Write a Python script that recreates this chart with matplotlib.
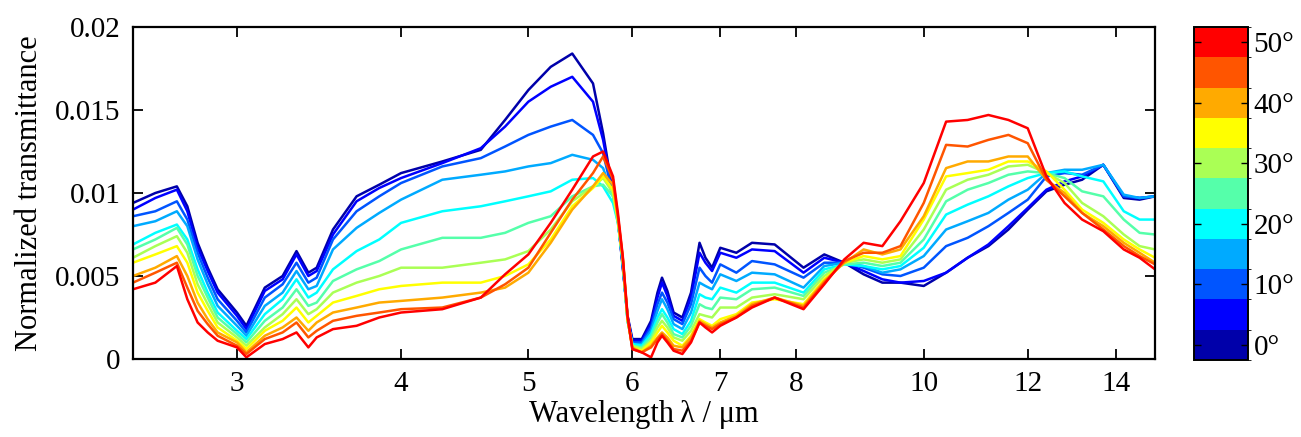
import matplotlib
matplotlib.use("Agg")
import matplotlib.pyplot as plt
import numpy as np
from matplotlib.colors import ListedColormap, BoundaryNorm
from matplotlib.ticker import FixedLocator, NullLocator, FixedFormatter

# wavelength grid in micrometres
wl = [2.50, 2.60, 2.70, 2.75, 2.80, 2.85, 2.90,
      3.00, 3.05, 3.15, 3.25, 3.33, 3.40, 3.45, 3.55, 3.70, 3.85,
      4.00, 4.30, 4.60, 4.80,
      5.00, 5.20, 5.40, 5.60, 5.70, 5.80, 5.85, 5.90, 5.95,
      6.00, 6.10, 6.20, 6.27, 6.32, 6.38, 6.45, 6.55, 6.65, 6.75, 6.82, 6.90,
      7.00, 7.20, 7.40, 7.70, 8.10, 8.40, 8.70,
      9.00, 9.30, 9.60, 10.0, 10.4, 10.8, 11.2, 11.6,
      12.0, 12.4, 12.8, 13.2, 13.7, 14.2, 14.6, 15.0]

# normalized transmittance, in units of 1e-3, one list per incidence angle
t00 = [9.4, 10.0, 10.4, 9.2, 7.0, 5.5, 4.2,
       2.8, 2.0, 4.3, 5.0, 6.5, 5.2, 5.5, 7.8, 9.8, 10.5,
       11.2, 11.9, 12.6, 14.4,
       16.2, 17.6, 18.4, 16.6, 13.6, 10.0, 8.4, 5.5, 2.6,
       1.2, 1.2, 2.3, 4.0, 4.9, 4.1, 2.8, 2.5, 4.0, 7.0, 6.1, 5.5,
       6.7, 6.4, 7.0, 6.9, 5.5, 6.3, 5.8,
       5.1, 4.6, 4.6, 4.4, 5.2, 6.1, 6.8, 7.8,
       9.0, 10.1, 10.5, 10.8, 11.7, 9.7, 9.6, 9.8]
t05 = [9.0, 9.7, 10.2, 8.9, 6.7, 5.3, 4.0,
       2.6, 1.8, 4.1, 4.8, 6.3, 5.0, 5.3, 7.5, 9.5, 10.3,
       10.9, 11.8, 12.7, 14.0,
       15.5, 16.4, 17.0, 15.5, 13.2, 10.0, 8.4, 5.6, 2.5,
       1.1, 1.1, 2.1, 3.7, 4.6, 3.8, 2.6, 2.3, 3.7, 6.4, 5.8, 5.3,
       6.4, 6.1, 6.6, 6.5, 5.2, 6.1, 5.8,
       5.3, 4.8, 4.6, 4.7, 5.2, 6.1, 6.9, 8.0,
       9.1, 10.2, 10.7, 11.0, 11.7, 9.8, 9.7, 9.8]
t10 = [8.6, 8.9, 9.5, 8.4, 6.4, 4.9, 3.6,
       2.3, 1.6, 3.7, 4.5, 5.8, 4.6, 4.9, 7.2, 8.9, 9.8,
       10.6, 11.6, 12.1, 12.8,
       13.5, 14.0, 14.4, 13.5, 12.4, 9.9, 8.4, 5.7, 2.4,
       1.0, 1.0, 1.9, 3.3, 4.0, 3.4, 2.4, 2.1, 3.3, 5.5, 5.0, 4.6,
       5.7, 5.2, 5.9, 5.7, 4.9, 5.8, 5.8,
       5.5, 5.1, 5.0, 5.5, 6.8, 7.3, 8.0, 8.8,
       9.6, 11.0, 11.2, 11.1, 11.7, 9.8, 9.7, 9.8]
t15 = [8.0, 8.3, 8.9, 8.0, 6.0, 4.5, 3.2,
       2.0, 1.4, 3.2, 4.0, 5.3, 4.2, 4.4, 6.6, 7.9, 8.8,
       9.6, 10.8, 11.1, 11.3,
       11.6, 11.8, 12.3, 12.0, 11.5, 9.8, 8.3, 5.8, 2.3,
       0.9, 0.9, 1.7, 2.9, 3.6, 3.0, 2.1, 1.8, 2.8, 4.6, 4.4, 4.2,
       5.1, 4.7, 5.2, 5.1, 4.3, 5.6, 5.8,
       5.6, 5.2, 5.4, 6.2, 7.8, 8.3, 8.8, 9.6,
       10.2, 11.2, 11.4, 11.4, 11.7, 9.9, 9.7, 9.8]
t20 = [6.9, 7.6, 8.1, 7.2, 5.4, 4.0, 2.8,
       1.7, 1.2, 2.7, 3.6, 4.8, 3.7, 4.0, 5.4, 6.5, 7.2,
       8.2, 8.9, 9.2, 9.5,
       9.8, 10.1, 10.8, 10.9, 10.4, 9.4, 8.2, 5.8, 2.3,
       0.9, 0.8, 1.5, 2.5, 3.0, 2.5, 1.8, 1.5, 2.3, 3.9, 3.7, 3.6,
       4.3, 4.0, 4.6, 4.6, 4.0, 5.4, 5.7,
       5.6, 5.4, 5.6, 6.7, 8.7, 9.3, 9.8, 10.4,
       10.9, 11.2, 11.3, 11.0, 10.7, 8.9, 8.4, 8.4]
t25 = [6.6, 7.2, 7.9, 6.9, 5.0, 3.7, 2.5,
       1.5, 1.0, 2.3, 3.1, 4.2, 3.2, 3.4, 4.7, 5.4, 5.9,
       6.6, 7.3, 7.3, 7.6,
       8.2, 8.6, 9.8, 10.4, 10.5, 9.8, 8.2, 5.9, 2.3,
       0.8, 0.7, 1.3, 2.2, 2.7, 2.2, 1.5, 1.3, 2.0, 3.3, 3.1, 3.0,
       3.7, 3.6, 4.2, 4.3, 3.8, 5.2, 5.7,
       5.8, 5.6, 5.8, 7.2, 9.5, 10.2, 10.6, 11.1,
       11.3, 11.2, 10.9, 10.1, 9.8, 8.4, 7.6, 7.5]
t30 = [6.1, 6.8, 7.4, 6.4, 4.5, 3.3, 2.2,
       1.3, 0.8, 1.9, 2.7, 3.6, 2.7, 3.0, 4.0, 4.6, 5.0,
       5.5, 5.5, 5.8, 6.0,
       6.5, 7.8, 9.5, 10.4, 10.9, 10.0, 8.3, 6.0, 2.4,
       0.8, 0.6, 1.1, 1.9, 2.3, 1.9, 1.3, 1.1, 1.7, 2.7, 2.6, 2.5,
       3.1, 3.1, 3.7, 3.9, 3.6, 5.0, 5.8,
       6.0, 5.8, 6.0, 7.8, 10.2, 10.8, 11.1, 11.6,
       11.7, 11.2, 10.6, 9.4, 8.6, 7.5, 6.8, 6.6]
t35 = [5.8, 6.3, 6.8, 5.8, 4.0, 2.9, 1.9,
       1.1, 0.6, 1.7, 2.3, 3.1, 2.2, 2.6, 3.4, 3.8, 4.2,
       4.4, 4.6, 4.6, 5.0,
       5.7, 7.2, 9.2, 10.3, 11.0, 10.2, 8.4, 6.0, 2.4,
       0.7, 0.5, 1.0, 1.6, 2.0, 1.6, 1.1, 0.8, 1.4, 2.4, 2.2, 2.0,
       2.4, 2.7, 3.4, 3.6, 3.3, 4.8, 5.8,
       6.2, 6.0, 6.2, 8.4, 11.0, 11.2, 11.4, 11.9,
       11.9, 11.3, 10.2, 9.0, 8.2, 7.2, 6.6, 6.1]
t40 = [5.0, 5.5, 6.2, 5.0, 3.4, 2.4, 1.6,
       1.0, 0.4, 1.4, 1.9, 2.5, 1.7, 2.2, 2.8, 3.1, 3.4,
       3.5, 3.7, 4.0, 4.3,
       5.2, 7.0, 9.0, 10.4, 11.2, 10.5, 8.5, 6.1, 2.4,
       0.7, 0.4, 0.8, 1.3, 1.6, 1.3, 0.8, 0.7, 1.3, 2.3, 2.1, 1.9,
       2.2, 2.6, 3.3, 3.7, 3.2, 4.7, 5.8,
       6.6, 6.3, 6.6, 8.6, 11.5, 11.9, 11.9, 12.2,
       12.2, 10.8, 10.0, 8.8, 8.0, 7.0, 6.4, 5.8]
t45 = [4.6, 5.2, 5.8, 4.3, 2.9, 2.1, 1.4,
       0.8, 0.3, 1.2, 1.6, 2.2, 1.3, 1.7, 2.3, 2.6, 2.8,
       3.0, 3.1, 3.7, 4.5,
       5.5, 7.6, 9.6, 11.2, 12.2, 10.8, 8.6, 6.1, 2.5,
       0.6, 0.4, 0.7, 1.2, 1.5, 1.1, 0.6, 0.5, 1.1, 2.2, 2.0, 1.8,
       2.1, 2.5, 3.2, 3.7, 3.1, 4.6, 5.9,
       6.4, 6.4, 6.8, 9.4, 12.9, 12.8, 13.2, 13.5,
       13.0, 10.8, 9.8, 8.8, 7.8, 6.8, 6.2, 5.7]
t50 = [4.2, 4.6, 5.6, 3.6, 2.2, 1.6, 1.1,
       0.7, 0.1, 0.9, 1.2, 1.6, 0.7, 1.3, 1.8, 2.0, 2.5,
       2.8, 3.0, 3.7, 5.1,
       6.3, 8.2, 10.2, 12.2, 12.5, 11.0, 8.8, 6.2, 2.6,
       0.6, 0.4, 0.1, 1.0, 1.4, 1.0, 0.5, 0.3, 1.0, 2.2, 1.9, 1.6,
       2.0, 2.5, 3.1, 3.7, 3.0, 4.5, 6.0,
       7.0, 6.8, 8.3, 10.6, 14.3, 14.4, 14.7, 14.4,
       13.9, 11.0, 9.4, 8.4, 7.7, 6.6, 6.1, 5.4]

angles = [0, 5, 10, 15, 20, 25, 30, 35, 40, 45, 50]
series = [t00, t05, t10, t15, t20, t25, t30, t35, t40, t45, t50]

colors = ["#0000aa", "#0000ff", "#0055ff", "#00aaff", "#00ffff", "#55ffaa",
          "#aaff55", "#ffff00", "#ffaa00", "#ff5500", "#ff0000"]

xticks = [3, 4, 5, 6, 7, 8, 10, 12, 14]
yticks = [0, 0.005, 0.01, 0.015, 0.02]
ytick_labels = ["0", "0.005", "0.01", "0.015", "0.02"]
cbar_ticks = [0, 10, 20, 30, 40, 50]

plt.rcParams["font.family"] = ["Liberation Serif", "DejaVu Serif"]

fig = plt.figure(figsize=(13.01, 4.37), dpi=100)
ax = fig.add_axes([0.1022, 0.1785, 0.7856, 0.7597])

for vals, c in zip(series, colors):
    ax.plot(wl, np.array(vals) * 1e-3, color=c, lw=1.8, solid_joinstyle="round")

ax.set_xscale("log")
ax.set_xlim(2.5, 15.0)
ax.set_ylim(0, 0.02)
ax.xaxis.set_major_locator(FixedLocator(xticks))
ax.xaxis.set_major_formatter(FixedFormatter([str(t) for t in xticks]))
ax.xaxis.set_minor_locator(NullLocator())
ax.set_yticks(yticks)
ax.set_yticklabels(ytick_labels)
ax.tick_params(direction="in", length=7, width=1.3, labelsize=21,
               top=True, right=True, pad=9)
for s in ax.spines.values():
    s.set_linewidth(1.6)

ax.set_xlabel("Wavelength\u2009λ / μm", fontsize=22, labelpad=2)
ax.set_ylabel("Normalized transmittance", fontsize=22, labelpad=8)

# discrete colour bar for the incidence angle
cmap = ListedColormap(colors)
bounds = np.arange(-2.5, 53, 5)
norm = BoundaryNorm(bounds, cmap.N)
cax = fig.add_axes([0.9178, 0.1762, 0.0415, 0.7620])
sm = plt.cm.ScalarMappable(cmap=cmap, norm=norm)
cb = fig.colorbar(sm, cax=cax, ticks=cbar_ticks)
cb.ax.set_yticklabels([f"{a}°" for a in cbar_ticks])
cb.ax.tick_params(direction="in", length=5, width=1.0, labelsize=21,
                  left=True, right=True, pad=4)
cb.outline.set_linewidth(1.4)

fig.savefig("out.png", dpi=100)
